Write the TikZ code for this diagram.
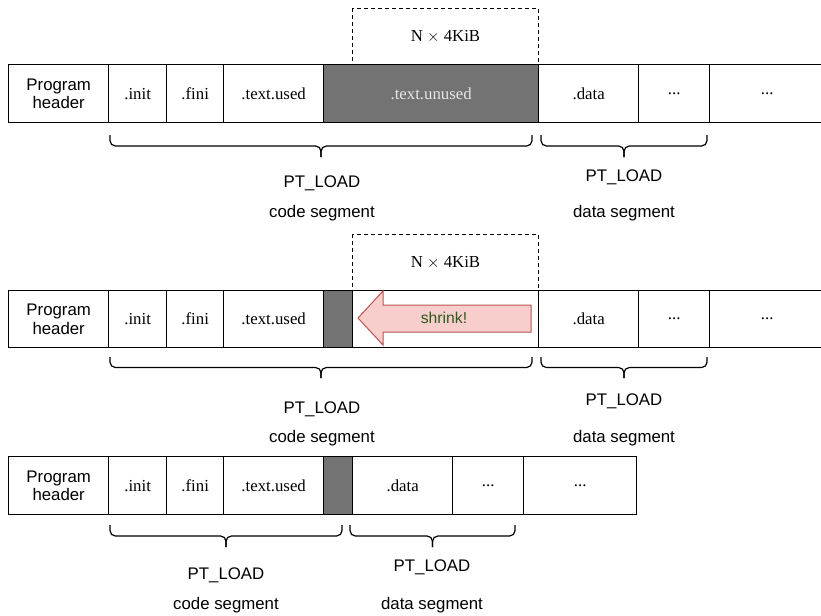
\documentclass[tikz,border=0pt]{standalone}
\usepackage{fontspec}
\setmainfont{Liberation Serif}
\setsansfont{Liberation Sans}
\definecolor{grayfill}{HTML}{737373}
\definecolor{unusedtxt}{HTML}{E6E6E6}
\definecolor{arrowfill}{HTML}{F8CECC}
\definecolor{arrowdraw}{HTML}{B85450}
\definecolor{shrinktxt}{HTML}{2B5A1A}
\tikzset{
 cellbox/.style={draw=black, line width=1pt, inner sep=0pt, anchor=north west, align=center, font=\fontsize{12.6pt}{14.5pt}\selectfont},
 sanscell/.style={cellbox, font=\sffamily\fontsize{12.6pt}{14pt}\selectfont},
 graycell/.style={cellbox, fill=grayfill, text=unusedtxt},
 dashbox/.style={draw=black, line width=0.75pt, dash pattern=on 3pt off 2.25pt, inner sep=0pt, anchor=north west, font=\fontsize{12.6pt}{14.5pt}\selectfont},
 lbl/.style={font=\sffamily\fontsize{12.6pt}{14.5pt}\selectfont, inner sep=0pt},
 bracepath/.style={draw=black, line width=0.9pt, rounded corners=4pt},
 shrinkarrow/.style={fill=arrowfill, draw=arrowdraw, line width=0.75pt},
}
\newcommand{\cell}[7]{\node[#1, minimum width={(#4-#3)*0.75pt}, minimum height={(#6-#5)*0.75pt}] (#2) at (#3,#5) {#7};}
\newcommand{\cbrace}[5]{%
 \coordinate (#1) at ({(#2+#3)/2},#5);
 \draw[bracepath] (#2,#4) -- (#2,{(#4+#5)/2}) -- ({(#2+#3)/2},{(#4+#5)/2}) -- (#1);
 \draw[bracepath] (#3,#4) -- (#3,{(#4+#5)/2}) -- ({(#2+#3)/2},{(#4+#5)/2}) -- (#1);
}
\begin{document}
\begin{tikzpicture}[x=0.75pt,y=-0.75pt]
\useasboundingbox (0,0) rectangle (821,615);

% ---------- Row 1 ----------
\cell{dashbox}{nA}{352}{538}{8}{64}{N $\times$ 4KiB}
\cell{sanscell}{phA}{8}{108}{64}{122}{Program\\header}
\cell{cellbox}{initA}{108}{166}{64}{122}{.init}
\cell{cellbox}{finiA}{166}{223}{64}{122}{.fini}
\cell{cellbox}{usedA}{223}{323}{64}{122}{.text.used}
\cell{graycell}{unusedA}{323}{538}{64}{122}{.text.unused}
\cell{cellbox}{dataA}{538}{638}{64}{122}{.data}
\cell{cellbox}{dotsA}{638}{709}{64}{122}{...}
\cell{cellbox}{dotsAA}{709}{824}{64}{122}{...}
\cbrace{brCA}{110}{532}{135}{157}
\cbrace{brDA}{541}{707}{135}{157}
\node[lbl] (plcA) at (322,183) {PT\_LOAD};
\node[lbl] (csA) at (322,213) {code segment};
\node[lbl] (pldA) at (624,177) {PT\_LOAD};
\node[lbl] (dsA) at (624,213) {data segment};

% ---------- Row 2 ----------
\cell{dashbox}{nB}{352}{538}{234}{290}{N $\times$ 4KiB}
\cell{sanscell}{phB}{8}{108}{290}{347}{Program\\header}
\cell{cellbox}{initB}{108}{166}{290}{347}{.init}
\cell{cellbox}{finiB}{166}{223}{290}{347}{.fini}
\cell{cellbox}{usedB}{223}{323}{290}{347}{.text.used}
\cell{graycell}{gapB}{323}{352}{290}{347}{}
\cell{cellbox}{freeB}{352}{538}{290}{347}{}
\cell{cellbox}{dataB}{538}{638}{290}{347}{.data}
\cell{cellbox}{dotsB}{638}{709}{290}{347}{...}
\cell{cellbox}{dotsBB}{709}{824}{290}{347}{...}
\draw[shrinkarrow] (358,318) -- (383,291) -- (383,305) -- (531,305) -- (531,332) -- (383,332) -- (383,345) -- cycle;
\node[text=shrinktxt, font=\sffamily\fontsize{11.8pt}{13pt}\selectfont, inner sep=0pt] (shrink) at (444,318) {shrink!};
\cbrace{brCB}{110}{532}{357}{378}
\cbrace{brDB}{541}{707}{357}{378}
\node[lbl] (plcB) at (322,409) {PT\_LOAD};
\node[lbl] (csB) at (322,438) {code segment};
\node[lbl] (pldB) at (624,401) {PT\_LOAD};
\node[lbl] (dsB) at (624,438) {data segment};

% ---------- Row 3 ----------
\cell{sanscell}{phC}{8}{108}{456}{514}{Program\\header}
\cell{cellbox}{initC}{108}{166}{456}{514}{.init}
\cell{cellbox}{finiC}{166}{223}{456}{514}{.fini}
\cell{cellbox}{usedC}{223}{323}{456}{514}{.text.used}
\cell{graycell}{gapC}{323}{352}{456}{514}{}
\cell{cellbox}{dataC}{352}{452}{456}{514}{.data}
\cell{cellbox}{dotsC}{452}{523}{456}{514}{...}
\cell{cellbox}{dotsCC}{523}{636}{456}{514}{...}
\cbrace{brCC}{110}{342}{525}{547}
\cbrace{brDC}{350}{515}{525}{547}
\node[lbl] (plcC) at (226,575) {PT\_LOAD};
\node[lbl] (csC) at (226,605) {code segment};
\node[lbl] (pldC) at (432,567) {PT\_LOAD};
\node[lbl] (dsC) at (432,605) {data segment};
\end{tikzpicture}
\end{document}
